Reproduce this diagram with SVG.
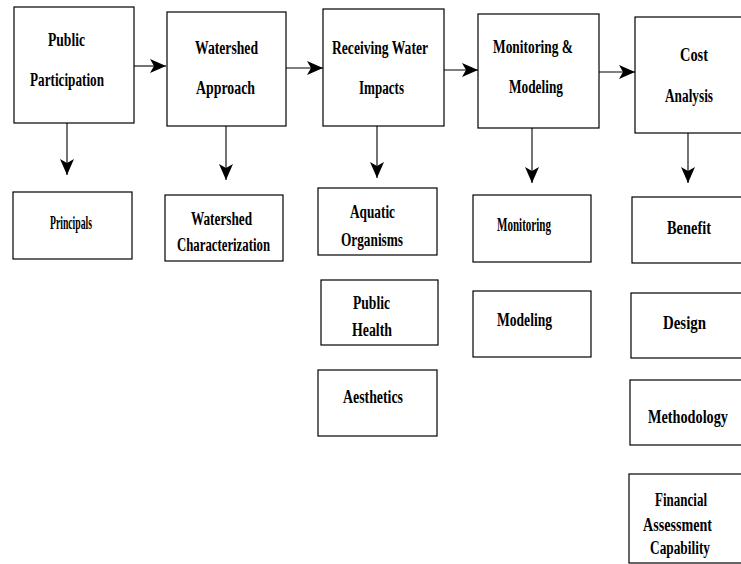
<svg xmlns="http://www.w3.org/2000/svg" width="741" height="564" viewBox="0 0 741 564">
<style>
.box{fill:#fff;stroke:#000;stroke-width:1.2}
.t{font-family:"Liberation Serif","Times New Roman",serif;font-weight:bold;font-size:18px;fill:#000}
.c{stroke:#000;stroke-width:1.1;fill:none}
</style>
<defs>
<marker id="ah" markerUnits="userSpaceOnUse" markerWidth="17" markerHeight="14" refX="16" refY="7" orient="auto">
<path d="M0,0 L16,7 L0,14 L4,7 Z" fill="#000"/>
</marker>
</defs>
<rect width="741" height="564" fill="#fff"/>
<g id="connectors">
<line class="c" x1="134" y1="66" x2="166" y2="66" marker-end="url(#ah)"/>
<line class="c" x1="286" y1="68" x2="323" y2="68" marker-end="url(#ah)"/>
<line class="c" x1="444" y1="70" x2="478" y2="70" marker-end="url(#ah)"/>
<line class="c" x1="599" y1="72" x2="635" y2="72" marker-end="url(#ah)"/>
<line class="c" x1="67" y1="123" x2="67" y2="175" marker-end="url(#ah)"/>
<line class="c" x1="226" y1="126" x2="226" y2="180" marker-end="url(#ah)"/>
<line class="c" x1="377" y1="126" x2="377" y2="178" marker-end="url(#ah)"/>
<line class="c" x1="532" y1="128" x2="532" y2="183" marker-end="url(#ah)"/>
<line class="c" x1="688" y1="133" x2="688" y2="183" marker-end="url(#ah)"/>
</g>
<g id="public-participation">
<rect class="box" x="14" y="7" width="120" height="116"/>
<text class="t" x="48" y="46" textLength="37" lengthAdjust="spacingAndGlyphs">Public</text>
<text class="t" x="30" y="86" textLength="74" lengthAdjust="spacingAndGlyphs">Participation</text>
</g>
<g id="watershed-approach">
<rect class="box" x="167" y="12" width="119" height="114"/>
<text class="t" x="195" y="54" textLength="63" lengthAdjust="spacingAndGlyphs">Watershed</text>
<text class="t" x="196" y="94" textLength="59" lengthAdjust="spacingAndGlyphs">Approach</text>
</g>
<g id="receiving-water-impacts">
<rect class="box" x="323" y="9" width="121" height="117"/>
<text class="t" x="332" y="54" textLength="96" lengthAdjust="spacingAndGlyphs">Receiving Water</text>
<text class="t" x="359" y="94" textLength="45" lengthAdjust="spacingAndGlyphs">Impacts</text>
</g>
<g id="monitoring-modeling">
<rect class="box" x="478" y="14" width="121" height="114"/>
<text class="t" x="493" y="53" textLength="80" lengthAdjust="spacingAndGlyphs">Monitoring &amp;</text>
<text class="t" x="509" y="93" textLength="54" lengthAdjust="spacingAndGlyphs">Modeling</text>
</g>
<g id="cost-analysis">
<rect class="box" x="635" y="17" width="130" height="116"/>
<text class="t" x="680" y="61" textLength="28" lengthAdjust="spacingAndGlyphs">Cost</text>
<text class="t" x="665" y="102" textLength="48" lengthAdjust="spacingAndGlyphs">Analysis</text>
</g>
<g id="principals">
<rect class="box" x="13" y="192" width="119" height="67"/>
<text class="t" x="50" y="229" textLength="42" lengthAdjust="spacingAndGlyphs">Principals</text>
</g>
<g id="watershed-characterization">
<rect class="box" x="165" y="195" width="118" height="66"/>
<text class="t" x="191" y="225" textLength="61" lengthAdjust="spacingAndGlyphs">Watershed</text>
<text class="t" x="177" y="251" textLength="93" lengthAdjust="spacingAndGlyphs">Characterization</text>
</g>
<g id="aquatic-organisms">
<rect class="box" x="318" y="188" width="119" height="67"/>
<text class="t" x="350" y="218" textLength="45" lengthAdjust="spacingAndGlyphs">Aquatic</text>
<text class="t" x="341" y="246" textLength="62" lengthAdjust="spacingAndGlyphs">Organisms</text>
</g>
<g id="public-health">
<rect class="box" x="321" y="280" width="117" height="65"/>
<text class="t" x="353" y="309" textLength="37" lengthAdjust="spacingAndGlyphs">Public</text>
<text class="t" x="352" y="336" textLength="40" lengthAdjust="spacingAndGlyphs">Health</text>
</g>
<g id="aesthetics">
<rect class="box" x="318" y="370" width="119" height="66"/>
<text class="t" x="343" y="403" textLength="60" lengthAdjust="spacingAndGlyphs">Aesthetics</text>
</g>
<g id="monitoring">
<rect class="box" x="473" y="195" width="118" height="67"/>
<text class="t" x="497" y="231" textLength="54" lengthAdjust="spacingAndGlyphs">Monitoring</text>
</g>
<g id="modeling">
<rect class="box" x="473" y="291" width="118" height="66"/>
<text class="t" x="497" y="326" textLength="55" lengthAdjust="spacingAndGlyphs">Modeling</text>
</g>
<g id="benefit">
<rect class="box" x="632" y="197" width="130" height="66"/>
<text class="t" x="667" y="234" textLength="44" lengthAdjust="spacingAndGlyphs">Benefit</text>
</g>
<g id="design">
<rect class="box" x="631" y="293" width="130" height="65"/>
<text class="t" x="663" y="329" textLength="43" lengthAdjust="spacingAndGlyphs">Design</text>
</g>
<g id="methodology">
<rect class="box" x="630" y="380" width="130" height="65"/>
<text class="t" x="648" y="423" textLength="80" lengthAdjust="spacingAndGlyphs">Methodology</text>
</g>
<g id="financial-assessment-capability">
<rect class="box" x="629" y="474" width="130" height="89"/>
<text class="t" x="655" y="506" textLength="52" lengthAdjust="spacingAndGlyphs">Financial</text>
<text class="t" x="643" y="531" textLength="69" lengthAdjust="spacingAndGlyphs">Assessment</text>
<text class="t" x="650" y="554" textLength="60" lengthAdjust="spacingAndGlyphs">Capability</text>
</g>
</svg>
